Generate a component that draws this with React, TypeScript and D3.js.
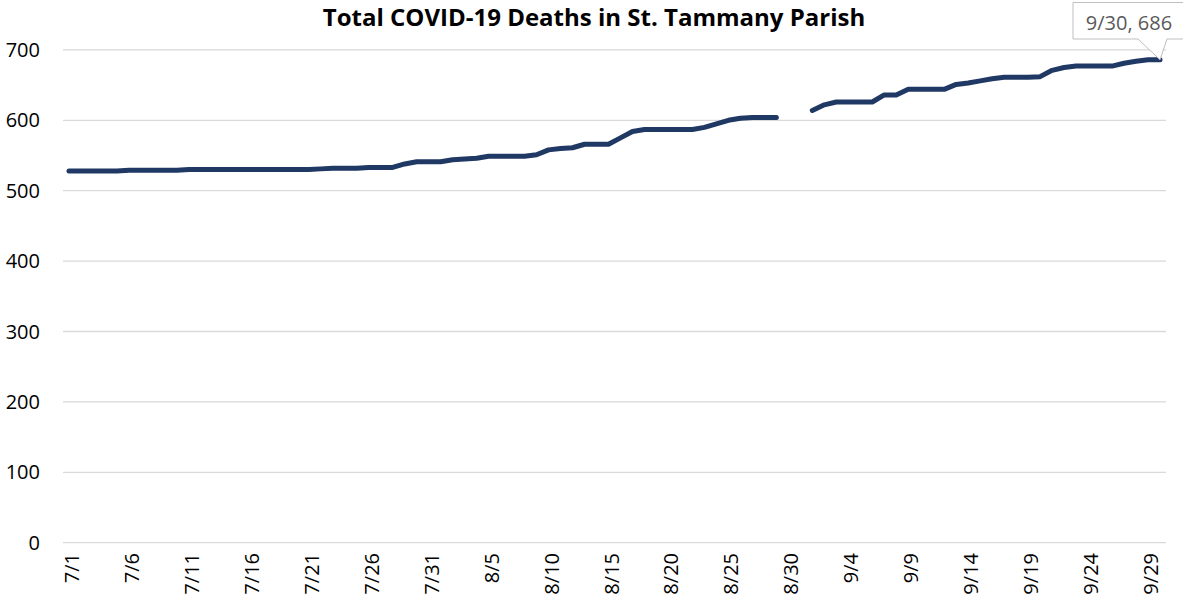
import React from 'react';
import * as d3 from 'd3';

// cumulative deaths, one value per day (null = no report)
const julyDeaths = [
  528, 528, 528, 528, 528, 529, 529, 529, 529, 529,
  530, 530, 530, 530, 530, 530, 530, 530, 530, 530,
  530, 531, 532, 532, 532, 533, 533, 533, 538, 541, 541,
];
const augustDeaths = [
  541, 544, 545, 546, 549, 549, 549, 549, 551, 558,
  560, 561, 566, 566, 566, 575, 584, 587, 587, 587,
  587, 587, 590, 595, 600, 603, 604, 604, 604, null, null,
];
const septemberDeaths = [
  614, 622, 626, 626, 626, 626, 636, 636, 644, 644,
  644, 644, 651, 653, 656, 659, 661, 661, 661, 662,
  671, 675, 677, 677, 677, 677, 681, 684, 686, 686,
];
const yTicks = [0, 100, 200, 300, 400, 500, 600, 700];
const title = 'Total COVID-19 Deaths in St. Tammany Parish';
const calloutText = '9/30, 686';

const deaths: (number | null)[] = [...julyDeaths, ...augustDeaths, ...septemberDeaths];
const days = d3.timeDay.range(new Date(2020, 6, 1), new Date(2020, 9, 1));
const fmt = d3.timeFormat('%-m/%-d');
const labels = days.map(d => fmt(d));

const W = 1183;
const H = 608;
const font = '"Open Sans", "Noto Sans", sans-serif';

const App: React.FC = () => {
  const x = d3.scaleBand<number>()
    .domain(d3.range(labels.length))
    .range([63, 1166]);
  const cx = (i: number) => (x(i) as number) + x.bandwidth() / 2;
  const y = d3.scaleLinear().domain([0, 700]).range([542.7, 49.9]);

  const line = d3.line<number | null>()
    .defined(d => d !== null)
    .x((_, i) => cx(i))
    .y(d => y(d as number));

  const last = deaths.length - 1;
  const px = cx(last);
  const py = y(deaths[last] as number);
  const callout = `M1073,2.5 H1186 V39 H1167 L${px},${py} L1138,39 H1073 Z`;

  return (
    <svg width={W} height={H} style={{ position: 'absolute', left: 0, top: 0, background: '#fff' }}>
      <text x={594} y={26} textAnchor="middle" fontFamily={font} fontWeight="bold" fontSize={24} fill="#000">
        {title}
      </text>

      {yTicks.map(t => (
        <g key={t}>
          <line x1={63} x2={1166} y1={y(t)} y2={y(t)} stroke="#d9d9d9" strokeWidth={1.3} />
          <text x={40} y={y(t)} dy="0.35em" textAnchor="end" fontFamily={font} fontSize={20} fill="#000">
            {t}
          </text>
        </g>
      ))}

      {labels.map((l, i) =>
        i % 5 === 0 ? (
          <text
            key={l}
            transform={`translate(${cx(i) + 3},553) rotate(-90)`}
            dy="0.35em"
            textAnchor="end"
            fontFamily={font}
            fontSize={20}
            fill="#000"
          >
            {l}
          </text>
        ) : null
      )}

      <path d={line(deaths) || ''} fill="none" stroke="#203864" strokeWidth={5} strokeLinejoin="round" strokeLinecap="round" />

      <path d={callout} fill="#fff" stroke="#bfbfbf" strokeWidth={1} />
      <text x={1129} y={30} textAnchor="middle" fontFamily={font} fontSize={20} fill="#595959">
        {calloutText}
      </text>
    </svg>
  );
};

export default App;
